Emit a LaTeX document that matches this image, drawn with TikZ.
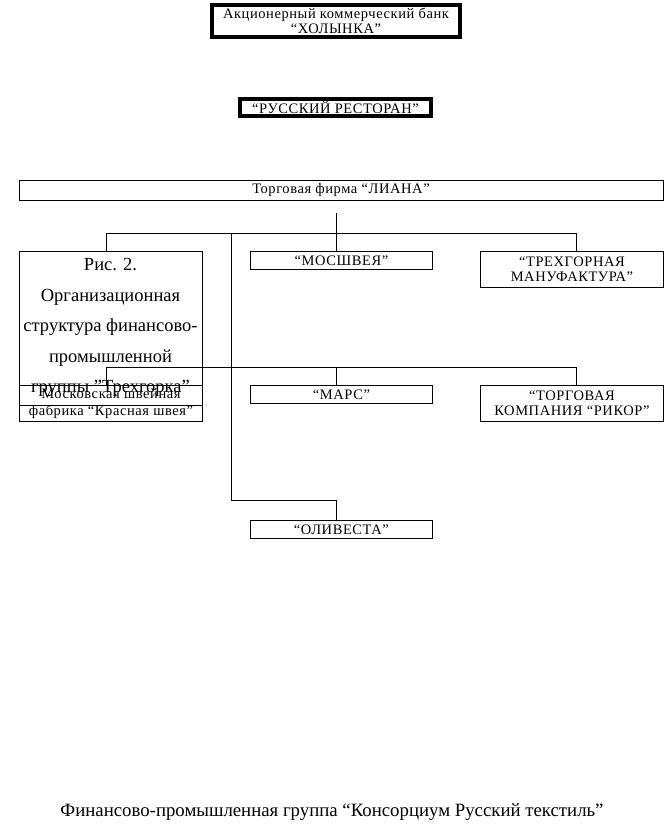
\documentclass[tikz,border=0pt]{standalone}
\usepackage{fontspec}
\setmainfont{Liberation Serif}
\newfontfamily\wideserif[LetterSpace=4]{Liberation Serif}
\newcommand{\smalltxt}{\wideserif\fontsize{14.5}{16}\selectfont}
\begin{document}
\begin{tikzpicture}[x=1pt,y=-1pt,
  box/.style={draw, line width=0.9pt, inner sep=0pt, align=center, font=\smalltxt},
  heavybox/.style={draw, line width=4pt, inner sep=0pt, align=center, font=\smalltxt},
  link/.style={line width=0.9pt}]
\useasboundingbox (0,0) rectangle (664,825);
% top boxes
\node[heavybox, minimum width=248, minimum height=32] (bank) at (336,20.5) {Акционерный коммерческий банк\\[-1pt]“ХОЛЫНКА”};
\node[heavybox, minimum width=191, minimum height=17] (rest) at (335.5,107) {“РУССКИЙ РЕСТОРАН”};
% main firm
\node[box, minimum width=644, minimum height=20] (liana) at (341,190) {Торговая фирма “ЛИАНА”};
% frame with caption
\node[box, minimum width=183, minimum height=154, anchor=north west] (ris) at (19,251) {};
\node[font=\fontsize{18.5}{30.6}\selectfont, align=center, anchor=north, inner sep=0pt] (ristxt) at (110.5,258) {Рис. 2.\\Организационная\\структура финансово-\\промышленной\\группы "Трехгорка"};
% row 1
\node[box, minimum width=182, minimum height=18, anchor=north west] (mosh) at (250,251) {“МОСШВЕЯ”};
\node[box, minimum width=183, minimum height=36, anchor=north west] (trekh) at (480,251) {“ТРЕХГОРНАЯ\\[-1pt]МАНУФАКТУРА”};
% row 2
\node[box, minimum width=183, minimum height=36, anchor=north west] (mosk) at (19,385) {Московская швейная\\[1pt]фабрика “Красная швея”};
\node[box, minimum width=182, minimum height=18, anchor=north west] (mars) at (250,385) {“МАРС”};
\node[box, minimum width=183, minimum height=36, anchor=north west] (rikor) at (480,385) {“ТОРГОВАЯ\\[-1pt]КОМПАНИЯ “РИКОР”};
% row 3
\node[box, minimum width=182, minimum height=18, anchor=north west] (oliv) at (250,520) {“ОЛИВЕСТА”};
% title
\node[font=\fontsize{18.8}{20}\selectfont, inner sep=0pt] (title) at (332,812) {Финансово-промышленная группа “Консорциум Русский текстиль”};
% connectors
\coordinate (top) at (336,213);
\coordinate (b1) at (336,233);
\coordinate (b1l) at (106,233);
\coordinate (b1r) at (576,233);
\coordinate (b1m) at (231,233);
\coordinate (b2l) at (106,367);
\coordinate (b2m) at (336,367);
\coordinate (b2r) at (576,367);
\coordinate (b3) at (231,500);
\coordinate (b3r) at (336,500);
\draw[link] (top) -- (b1);
\draw[link] (b1l) -- (b1r);
\draw[link] (b1l) -- (b1l |- ris.north);
\draw[link] (b1) -- (b1 |- mosh.north);
\draw[link] (b1r) -- (b1r |- trekh.north);
\draw[link] (b1m) -- (b3) -- (b3r) -- (b3r |- oliv.north);
\draw[link] (b2l) -- (b2r);
\draw[link] (b2l) -- (b2l |- mosk.north);
\draw[link] (b2m) -- (b2m |- mars.north);
\draw[link] (b2r) -- (b2r |- rikor.north);
\end{tikzpicture}
\end{document}
